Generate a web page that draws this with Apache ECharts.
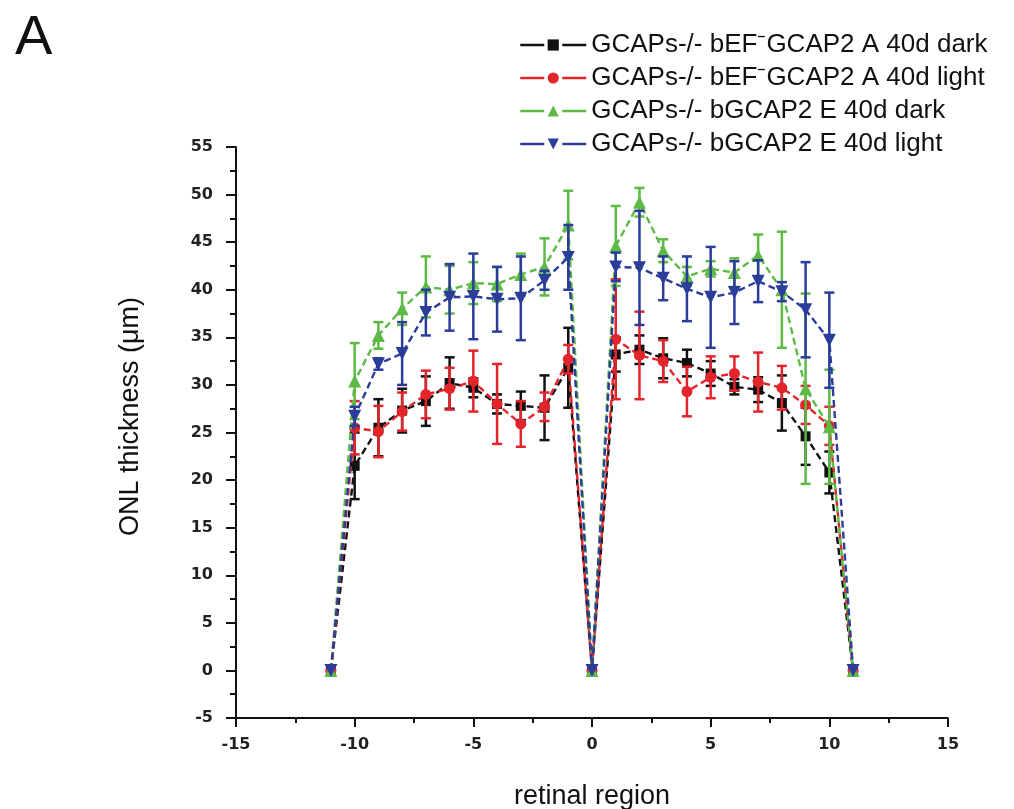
<!DOCTYPE html>
<html><head><meta charset="utf-8">
<script src="https://cdn.jsdelivr.net/npm/echarts@6/dist/echarts.min.js"></script>
<style>html,body{margin:0;padding:0;background:#fff}#c{width:1014px;height:809px}</style>
</head><body><div id="c"></div>
<script>
const xs = [-11,-10,-9,-8,-7,-6,-5,-4,-3,-2,-1,0,1,2,3,4,5,6,7,8,9,10,11];
const names = [
  'GCAPs-/- bEF\u207BGCAP2 A 40d dark',
  'GCAPs-/- bEF\u207BGCAP2 A 40d light',
  'GCAPs-/- bGCAP2 E 40d dark',
  'GCAPs-/- bGCAP2 E 40d light'
];
const blackMean = [0,21.5,25.5,27.3,28.3,30.2,29.7,28.0,27.8,27.6,31.8,0,33.2,33.7,32.8,32.3,31.2,29.8,29.5,28.1,24.6,20.8,0];
const blackErr  = [0,3.5,3.0,2.3,2.6,2.7,1.0,1.0,1.5,3.4,4.2,0,1.8,1.5,2.1,1.4,1.3,0.8,1.3,2.9,3.0,2.2,0];
const redMean   = [0,25.5,25.1,27.2,29.0,29.6,30.4,28.0,25.9,27.7,32.7,0,34.8,33.1,32.5,29.3,30.8,31.2,30.3,29.7,27.9,25.7,0];
const redErr    = [0,2.8,2.7,2.0,2.5,2.2,3.2,4.2,2.4,1.5,1.5,0,6.3,4.6,2.2,2.6,2.2,1.8,3.1,2.3,2.0,2.0,0];
const greenMean = [0,30.4,35.2,38.0,40.3,40.0,40.7,40.6,41.6,42.4,46.8,0,44.6,49.2,44.1,41.4,42.2,41.8,43.6,40.0,29.6,25.6,0];
const greenErr  = [0,4.0,1.4,1.7,3.2,2.5,2.2,1.8,2.2,3.0,3.6,0,4.2,1.5,1.2,1.0,0.8,1.5,2.2,6.1,10.0,6.0,0];
const blueMean  = [0,26.7,32.2,33.3,37.6,39.2,39.3,39.0,39.1,41.0,43.4,0,42.4,42.3,41.2,40.1,39.2,39.7,40.9,39.8,37.9,34.7,0];
const blueErr   = [0,1.0,0.6,3.3,2.4,3.5,4.5,3.4,4.4,1.0,3.4,0,1.5,6.0,2.3,3.4,5.3,3.3,2.2,1.0,5.0,5.0,0];
const xTicks = [-15,-10,-5,0,5,10,15];
const yTicks = [-5,0,5,10,15,20,25,30,35,40,45,50,55];

const colors = ['#111111','#e3242b','#5cba45','#2b3c9b'];
const symbols = ['rect','circle','triangle','path://M0,0 L10,0 L5,9 Z'];
const sizes = [10, 11, 13, 13];
const means = [blackMean, redMean, greenMean, blueMean];
const errs = [blackErr, redErr, greenErr, blueErr];

const lineSeries = [], errSeries = [];
for (let s = 0; s < 4; s++) {
  const ed = [];
  xs.forEach((x, i) => { if (errs[s][i] > 0) ed.push([x, means[s][i] - errs[s][i], means[s][i] + errs[s][i]]); });
  errSeries.push({
    type: 'custom', name: 'err' + s, silent: true, z: 2 + s * 2,
    data: ed,
    itemStyle: { color: colors[s] },
    renderItem: function (params, api) {
      const x = api.value(0);
      const lo = api.coord([x, api.value(1)]);
      const hi = api.coord([x, api.value(2)]);
      const hw = 5;
      const st = { stroke: colors[s], lineWidth: 2.5, fill: null };
      return { type: 'group', children: [
        { type: 'line', shape: { x1: lo[0], y1: lo[1], x2: hi[0], y2: hi[1] }, style: st },
        { type: 'line', shape: { x1: lo[0] - hw, y1: lo[1], x2: lo[0] + hw, y2: lo[1] }, style: st },
        { type: 'line', shape: { x1: hi[0] - hw, y1: hi[1], x2: hi[0] + hw, y2: hi[1] }, style: st }
      ]};
    }
  });
  lineSeries.push({
    type: 'line', name: names[s], z: 3 + s * 2,
    data: xs.map((x, i) => [x, means[s][i]]),
    symbol: symbols[s], symbolSize: sizes[s],
    showSymbol: true,
    color: colors[s],
    lineStyle: { color: colors[s], width: 2.4, type: [7, 4] },
    itemStyle: { color: colors[s] }
  });
}

const chart = echarts.init(document.getElementById('c'), null, { renderer: 'canvas' });
chart.setOption({
  animation: false,
  backgroundColor: '#fff',
  color: colors,
  title: { text: 'A', left: 10, top: 6, textStyle: { fontFamily: 'Liberation Sans', fontSize: 56, fontWeight: 'normal', color: '#111' } },
  legend: {
    data: names, orient: 'vertical', left: 514, top: 27,
    itemWidth: 66, itemHeight: 14, itemGap: 7,
    lineStyle: { type: [24, 18], width: 2.5 },
    textStyle: { fontFamily: 'Liberation Sans', fontSize: 26, color: '#111', lineHeight: 26 }
  },
  grid: { left: 236, top: 147, width: 712, height: 571, containLabel: false, outerBoundsMode: 'none' },
  xAxis: {
    type: 'value', min: -15, max: 15, interval: 5,
    name: 'retinal region', nameLocation: 'middle', nameGap: 65,
    nameTextStyle: { fontFamily: 'Liberation Sans', fontSize: 27, color: '#111' },
    axisLine: { onZero: false, lineStyle: { color: '#111', width: 2 } },
    axisTick: { length: 9, lineStyle: { color: '#111', width: 2 } },
    minorTick: { show: true, splitNumber: 2, length: 5, lineStyle: { color: '#111', width: 2 } },
    splitLine: { show: false },
    axisLabel: { margin: 19, fontFamily: 'DejaVu Sans', fontWeight: 'bold', fontSize: 16, color: '#222',
      formatter: v => xTicks.includes(v) ? String(v) : '' }
  },
  yAxis: {
    type: 'value', min: -5, max: 55, interval: 5,
    name: 'ONL thickness (\u03BCm)', nameLocation: 'middle', nameGap: 92,
    nameTextStyle: { fontFamily: 'Liberation Sans', fontSize: 27, color: '#111', padding: [0, 0, 0, 32] },
    axisLine: { onZero: false, lineStyle: { color: '#111', width: 2 } },
    axisTick: { length: 10, lineStyle: { color: '#111', width: 2 } },
    minorTick: { show: true, splitNumber: 2, length: 6, lineStyle: { color: '#111', width: 2 } },
    splitLine: { show: false },
    axisLabel: { margin: 23, fontFamily: 'DejaVu Sans', fontWeight: 'bold', fontSize: 16, color: '#222',
      formatter: v => yTicks.includes(v) ? String(v) : '' }
  },
  series: lineSeries.concat(errSeries)
});
</script></body></html>
